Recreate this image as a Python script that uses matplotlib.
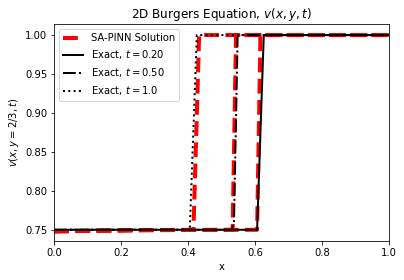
import matplotlib
matplotlib.use('Agg')
import matplotlib.pyplot as plt

# exact solutions (x, v) at y = 2/3
x_exact_02 = [0.0, 0.606, 0.626, 1.0]
v_exact_02 = [0.75, 0.75, 1.0, 1.0]
x_exact_05 = [0.0, 0.530, 0.537, 0.548, 1.0]
v_exact_05 = [0.75, 0.75, 0.76, 1.0, 1.0]
x_exact_10 = [0.0, 0.405, 0.426, 1.0]
v_exact_10 = [0.75, 0.75, 1.0, 1.0]

# SA-PINN predictions
x_pinn_02 = [0.0, 0.25, 0.606, 0.616, 1.0]
v_pinn_02 = [0.748, 0.7495, 0.75, 1.0, 1.0]
x_pinn_05 = [0.0, 0.25, 0.533, 0.543, 1.0]
v_pinn_05 = [0.748, 0.7495, 0.75, 1.0, 1.0]
x_pinn_10 = [0.0, 0.25, 0.416, 0.433, 1.0]
v_pinn_10 = [0.748, 0.7495, 0.75, 1.0, 1.0]

fig = plt.figure(figsize=(404 / 72, 280 / 72), dpi=72)
ax = fig.add_axes([0.134, 0.139, 0.829, 0.775])

# predictions first, exact on top
ax.plot(x_pinn_02, v_pinn_02, 'r--', lw=4, label='SA-PINN Solution')
ax.plot(x_pinn_05, v_pinn_05, 'r--', lw=4)
ax.plot(x_pinn_10, v_pinn_10, 'r--', lw=4)
ax.plot(x_exact_02, v_exact_02, 'k-', lw=2, label='Exact, $t = 0.20$')
ax.plot(x_exact_05, v_exact_05, 'k-.', lw=2, label='Exact, $t = 0.50$')
ax.plot(x_exact_10, v_exact_10, 'k:', lw=2, label='Exact, $t = 1.0$')

ax.set_xlim(0, 1)
ax.set_ylim(0.7355, 1.0141)
ax.set_xlabel('x')
ax.set_ylabel('$v(x, y = 2/3, t)$')
ax.set_title('2D Burgers Equation, $v(x, y, t)$')
ax.legend(loc='upper left')

fig.savefig('out.png', dpi=72)
